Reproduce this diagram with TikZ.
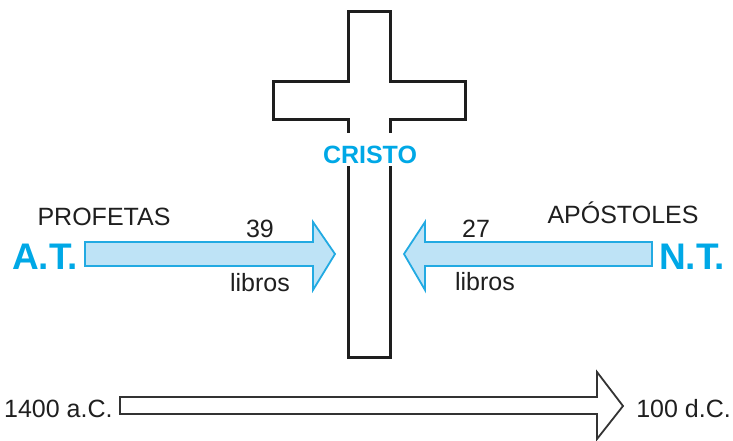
\documentclass[tikz,border=0pt]{standalone}
\usepackage{fontspec}
\setmainfont{Liberation Sans}
\definecolor{cblue}{HTML}{00A8E6}
\definecolor{afill}{HTML}{BEE3F6}
\definecolor{astroke}{HTML}{22AAE2}
\definecolor{crossc}{HTML}{1E1E1E}
\begin{document}
\begin{tikzpicture}[x=1pt,y=-1pt,
  lbl/.style={inner sep=0pt,anchor=base,font=\fontsize{25}{30}\selectfont,text=black!88},
  big/.style={inner sep=0pt,anchor=base,font=\fontsize{37}{44}\selectfont\bfseries,text=cblue},
  bluearrow/.style={draw=astroke,fill=afill,line width=1.8pt,line join=miter},
  crossline/.style={draw=crossc,line width=3pt,line join=miter},
  timearrow/.style={draw=black!80,fill=white,line width=1.8pt,line join=miter}]
\useasboundingbox (0,0) rectangle (733,441);
% cross
\draw[crossline] (348,133) -- (348,120) -- (273,120) -- (273,82) -- (348,82) -- (348,12)
  -- (390,12) -- (390,82) -- (465,82) -- (465,120) -- (390,120) -- (390,133);
\draw[crossline] (390,166) -- (390,357) -- (348,357) -- (348,166);
\node[big,font=\fontsize{25}{30}\selectfont\bfseries] (cristo) at (370,163) {CRISTO};
% left arrow
\draw[bluearrow] (85,242) -- (313,242) -- (313,222) -- (335,254) -- (313,290) -- (313,266) -- (85,266) -- cycle;
\node[big,anchor=base west] (at) at (12,269) {A.T.};
\node[lbl] (prof) at (104,225) {PROFETAS};
\node[lbl] (n39) at (260,237) {39};
\node[lbl] (lib1) at (260,291) {libros};
% right arrow
\draw[bluearrow] (652,242) -- (425,242) -- (425,222) -- (404,254) -- (425,290) -- (425,266) -- (652,266) -- cycle;
\node[big,anchor=base east] (nt) at (725,269) {N.T.};
\node[lbl] (apos) at (623,223) {APÓSTOLES};
\node[lbl] (n27) at (476,237) {27};
\node[lbl] (lib2) at (485,290) {libros};
% time arrow
\draw[timearrow] (120,397) -- (597,397) -- (597,372) -- (623,406) -- (597,439) -- (597,414) -- (120,414) -- cycle;
\node[lbl,anchor=base west] (t1) at (4,417) {1400 a.C.};
\node[lbl,anchor=base east] (t2) at (731,417) {100 d.C.};
\end{tikzpicture}
\end{document}
